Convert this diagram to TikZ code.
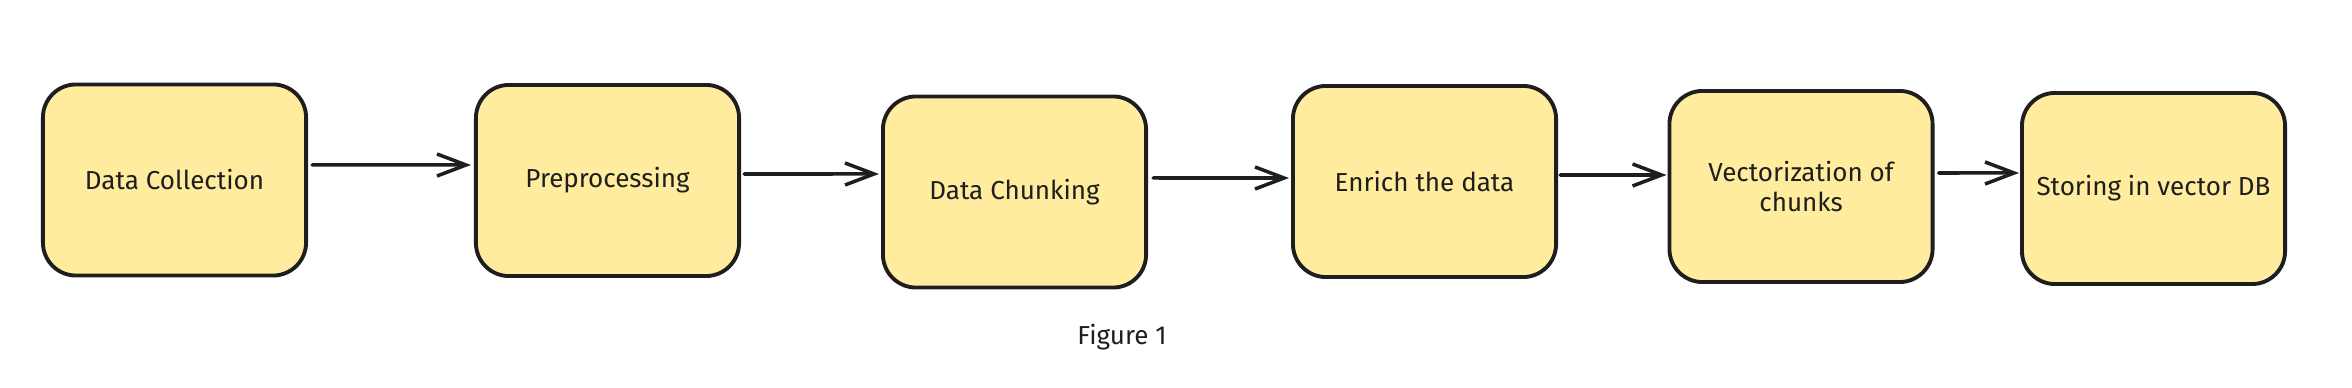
\documentclass[tikz,border=0pt]{standalone}
\usepackage{fontspec}
\setmainfont{Fira Sans}
\usetikzlibrary{arrows.meta,positioning}
\definecolor{ink}{HTML}{1E1E1E}
\definecolor{note}{HTML}{FFEC9F}
\tikzset{pipeline/.style={
  x=0.01cm,y=-0.01cm,
  >={Straight Barb[length=0.29cm,width=0.22cm]},line join=round,line cap=round
}}
\tikzset{stage/.style={draw=ink,fill=note,line width=1.1pt,rounded corners=0.33cm,
  minimum width=2.63cm,minimum height=1.91cm,align=center,text=ink,
  font=\fontsize{7.4}{8.4}\selectfont}}
\tikzset{flow/.style={->,draw=ink,line width=1pt}}

\begin{document}
\begin{tikzpicture}[pipeline]
  \useasboundingbox (0,0) rectangle (2352,388);
  \node[stage] (collect) at (174.5,180) {Data Collection};
  \node[stage] (prep) at (607.5,180.5) {Preprocessing};
  \node[stage] (chunk) at (1014.5,192) {Data Chunking};
  \node[stage] (enrich) at (1424.5,181.5) {Enrich the data};
  \node[stage] (vector) at (1801,186.5) {Vectorization of\\chunks};
  \node[stage] (store) at (2153.5,188.5) {Storing in vector DB};
  \draw[flow] ([xshift=0.04cm,yshift=0.15cm]collect.east) -- ([xshift=-0.03cm,yshift=0.155cm]prep.west);
  \draw[flow] ([xshift=0.03cm,yshift=0.065cm]prep.east) -- ([xshift=-0.02cm,yshift=0.18cm]chunk.west);
  \draw[flow] ([xshift=0.05cm,yshift=0.14cm]chunk.east) -- ([xshift=-0.02cm,yshift=0.035cm]enrich.west);
  \draw[flow] ([xshift=0.02cm,yshift=0.065cm]enrich.east) -- ([xshift=-0.01cm,yshift=0.115cm]vector.west);
  \draw[flow] ([xshift=0.04cm,yshift=0.135cm]vector.east) -- ([xshift=-0.01cm,yshift=0.155cm]store.west);
  \node[text=ink,font=\fontsize{7.4}{8.4}\selectfont] (caption) at (1122,337) {Figure 1};
\end{tikzpicture}
\end{document}
